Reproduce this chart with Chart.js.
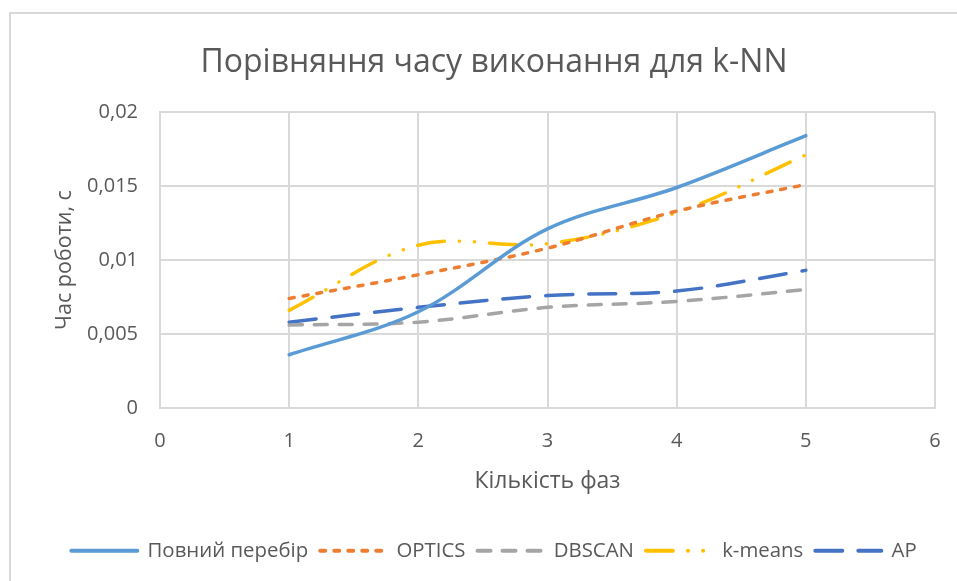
<!DOCTYPE html>
<html>
<head>
<meta charset="utf-8">
<script src="https://cdn.jsdelivr.net/npm/chart.js@4.4.1/dist/chart.umd.min.js"></script>
<style>
  html, body { margin: 0; padding: 0; background: #fff; }
  #wrap { position: relative; width: 957px; height: 581px; }
  #frame { position: absolute; left: 9px; top: 12px; right: -5px; bottom: -5px;
           border-left: 2px solid #d9d9d9; border-top: 2px solid #d9d9d9; }
  canvas { position: absolute; left: 0; top: 0; }
</style>
</head>
<body>
<div id="wrap">
  <div id="frame"></div>
  <canvas id="chart" width="957" height="581"></canvas>
</div>
<script>
// кількість фаз
const phases = [1, 2, 3, 4, 5];

// час роботи, с
const fullSearch = [0.0036, 0.0065, 0.0121, 0.0149, 0.0184];
const optics = [0.0074, 0.0090, 0.0108, 0.0133, 0.0151];
const dbscan = [0.0056, 0.0058, 0.0068, 0.0072, 0.0080];
const kmeans = [0.0066, 0.0110, 0.0111, 0.0132, 0.0171];
const ap = [0.0058, 0.0068, 0.0076, 0.0079, 0.0093];

const FONT = '"Open Sans", "Liberation Sans", sans-serif';
const TEXT = '#595959';
const GRID = '#d9d9d9';
const PLOT_BOTTOM = 408;

function points(values) {
    return phases.map((x, i) => ({ x: x, y: values[i] }));
}

function series(label, values, color, dash, cap) {
    return {
        label: label,
        data: points(values),
        borderColor: color,
        backgroundColor: color,
        borderWidth: 3.5,
        borderDash: dash,
        borderCapStyle: cap,
        pointRadius: 0,
        pointHoverRadius: 0,
        showLine: true,
        fill: false,
        tension: 0.35,
    };
}

// легенда малює лінію з тим самим пунктиром, що і серія
function legendLabels(chart) {
    const items = Chart.defaults.plugins.legend.labels.generateLabels(chart);
    items.forEach((item) => {
        const ds = chart.data.datasets[item.datasetIndex];
        item.pointStyle = 'line';
        item.lineWidth = 4;
        item.lineDash = ds.borderDash;
        item.lineCap = ds.borderCapStyle;
        item.strokeStyle = ds.borderColor;
        item.fillStyle = ds.borderColor;
    });
    return items;
}

const ctx = document.getElementById('chart').getContext('2d');
new Chart(ctx, {
    type: 'scatter',
    data: {
        datasets: [
            series('Повний перебір', fullSearch, '#5b9bd5', [], 'round'),
            series('OPTICS', optics, '#ed7d31', [5, 9], 'round'),
            series('DBSCAN', dbscan, '#a5a5a5', [13, 12], 'round'),
            series('k-means', kmeans, '#ffc000', [27, 15, 0.1, 15, 0.1, 15], 'round'),
            series('AP', ap, '#4472c4', [27, 16], 'round'),
        ],
    },
    options: {
        responsive: false,
        animation: false,
        layout: { padding: { left: 53, right: 22, top: 0, bottom: 10 } },
        plugins: {
            title: {
                display: true,
                text: 'Порівняння часу виконання для k-NN',
                color: TEXT,
                font: { family: FONT, size: 32, weight: 'normal', lineHeight: 1.2 },
                padding: { top: 43.5, bottom: 30.1 },
            },
            legend: {
                position: 'bottom',
                labels: {
                    color: TEXT,
                    font: { family: FONT, size: 20.4, lineHeight: 1.2 },
                    usePointStyle: true,
                    pointStyleWidth: 66,
                    padding: 12,
                    generateLabels: legendLabels,
                },
            },
            tooltip: { enabled: false },
        },
        scales: {
            x: {
                type: 'linear',
                min: 0,
                max: 6,
                ticks: { stepSize: 1, color: TEXT, padding: 21, font: { family: FONT, size: 20 } },
                grid: { color: GRID, lineWidth: 2, drawTicks: false },
                border: { color: GRID, width: 2 },
                title: {
                    display: true,
                    text: 'Кількість фаз',
                    color: TEXT,
                    font: { family: FONT, size: 23, lineHeight: 1.2 },
                    padding: { top: 0, bottom: 33 },
                },
                afterFit: (scale) => {
                    const legend = scale.chart.legend;
                    scale.height = 581 - 10 - PLOT_BOTTOM - (legend ? legend.height : 44);
                    scale.paddingRight = 0;
                },
            },
            y: {
                min: 0,
                max: 0.02,
                ticks: {
                    stepSize: 0.005,
                    color: TEXT,
                    padding: 22,
                    font: { family: FONT, size: 20 },
                    callback: (v) => String(Math.round(v * 1000) / 1000).replace('.', ','),
                },
                grid: { color: GRID, lineWidth: 2, drawTicks: false },
                border: { color: GRID, width: 2 },
                title: {
                    display: true,
                    text: 'Час роботи, с',
                    color: TEXT,
                    font: { family: FONT, size: 21.5, lineHeight: 1 },
                    padding: { top: 1, bottom: 0 },
                },
                afterFit: (scale) => { scale.width = 107; },
            },
        },
    },
});
</script>
</body>
</html>
